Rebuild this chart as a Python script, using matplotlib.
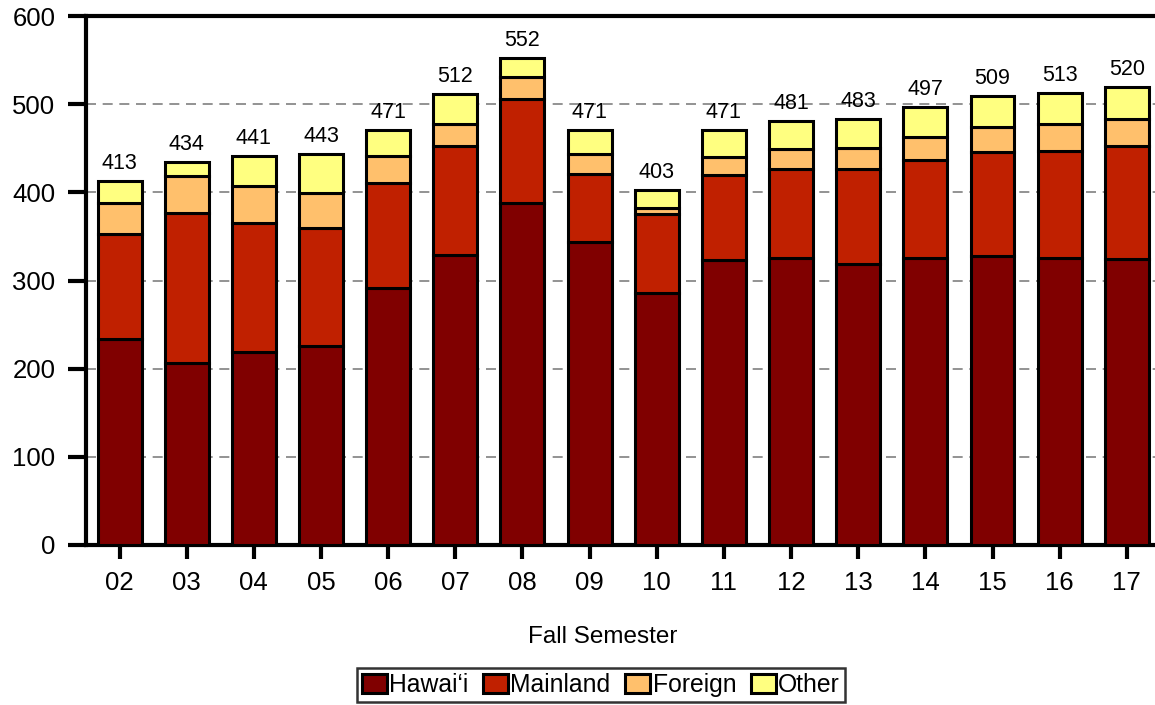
import matplotlib.pyplot as plt
import numpy as np

plt.rcParams['font.family'] = ['Liberation Sans', 'DejaVu Sans']

years = ["02", "03", "04", "05", "06", "07", "08", "09",
         "10", "11", "12", "13", "14", "15", "16", "17"]
hawaii = [234, 206, 219, 226, 292, 329, 388, 344, 286, 323, 325, 319, 325, 328, 325, 324]
mainland = [119, 171, 146, 133, 119, 123, 118, 77, 89, 97, 102, 107, 112, 118, 122, 128]
foreign = [35, 42, 42, 40, 30, 25, 25, 23, 7, 20, 22, 24, 26, 28, 30, 31]
other = [25, 15, 34, 44, 30, 35, 21, 27, 21, 31, 32, 33, 34, 35, 36, 37]
totals = [413, 434, 441, 443, 471, 512, 552, 471, 403, 471, 481, 483, 497, 509, 513, 520]

series = [("Hawai\u2018i", hawaii, "#800000"),
          ("Mainland", mainland, "#C02000"),
          ("Foreign", foreign, "#FFC06C"),
          ("Other", other, "#FFFF80")]

fig = plt.figure(figsize=(11.55, 7.05), dpi=100)
ax = fig.add_axes([86 / 1155, 1 - 545 / 705, 1 - 86 / 1155, (545 - 16) / 705])

x = np.arange(len(years))
bottom = np.zeros(len(years))
handles = []
for name, vals, color in series:
    b = ax.bar(x, vals, 0.655, bottom=bottom, color=color, edgecolor="black",
               linewidth=2.2, label=name, zorder=3)
    handles.append(b)
    bottom += np.array(vals)

for xi, t in zip(x, totals):
    ax.annotate(str(t), (xi, t), xytext=(0, 5), textcoords="offset points",
                ha="center", va="bottom", fontsize=15.5)

ax.set_ylim(0, 600)
ax.set_xlim(-0.5, 15.42)
ax.set_yticks(range(0, 601, 100))
ax.set_xticks(x)
ax.set_xticklabels(years)
ax.yaxis.grid(True, linestyle=(0, (6, 4)), color="#808080", linewidth=1.2, zorder=0)
ax.set_axisbelow(True)

for s in ["left", "bottom", "top"]:
    ax.spines[s].set_linewidth(3)
ax.spines["right"].set_visible(False)
ax.tick_params(axis="y", length=13, width=3, labelsize=18.5, pad=9)
ax.tick_params(axis="x", length=10, width=3, labelsize=18.5, pad=9)

fig.text(603 / 1155, 1 - 637 / 705, "Fall Semester", ha="center", va="center", fontsize=17.5)

leg = fig.legend(handles=handles, loc="center", bbox_to_anchor=(601 / 1155, 1 - 685 / 705),
                 ncol=4, fontsize=17.8, frameon=True, fancybox=False, edgecolor="black",
                 handlelength=1.0, handleheight=0.8, handletextpad=0.1,
                 columnspacing=0.6, borderpad=0.2, borderaxespad=0)
leg.get_frame().set_linewidth(1.8)

fig.savefig("out.png", dpi=100)
